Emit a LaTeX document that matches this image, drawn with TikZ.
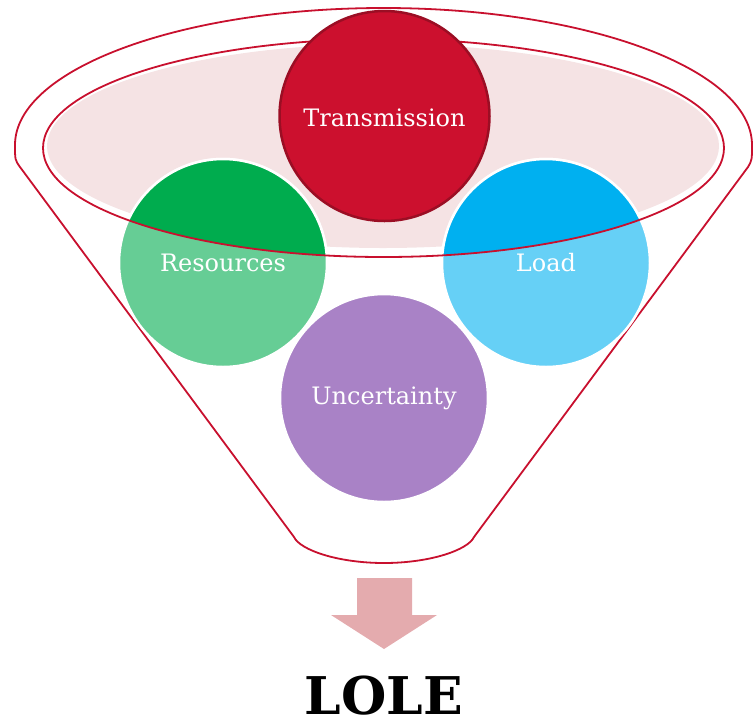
\documentclass[tikz,border=0pt]{standalone}
\usepackage{fontspec}
\setmainfont{DejaVu Serif}
\definecolor{funnelred}{HTML}{C8102E}
\definecolor{bowlpink}{HTML}{F5E3E4}
\definecolor{transfill}{HTML}{CC102E}
\definecolor{transedge}{HTML}{9B0E24}
\definecolor{resdark}{HTML}{00AC4E}
\definecolor{reslight}{HTML}{66CD95}
\definecolor{loaddark}{HTML}{00B0F0}
\definecolor{loadlight}{HTML}{66D0F6}
\definecolor{uncfill}{HTML}{A982C6}
\definecolor{arrowpink}{HTML}{E4ABAE}
\tikzset{
  funnelline/.style={draw=funnelred, line width=1.8pt, line join=round},
  bubble/.style={circle, draw=white, line width=2.5pt, minimum size=208pt, inner sep=0pt},
  bubbletext/.style={text=white, font=\fontsize{24}{28}\selectfont},
  bigtext/.style={text=black, inner sep=0pt, text depth=0pt, font=\fontsize{52}{58}\selectfont\bfseries}
}
\begin{document}
\begin{tikzpicture}[x=1pt, y=-1pt]
\useasboundingbox (0,0) rectangle (755,721);

% pink surface inside the funnel mouth
\fill[bowlpink] (383,146) ellipse [x radius=336, y radius=102];

% funnel outline
\draw[funnelline] (20,167) .. controls (15,160) .. (15,145)
  arc [start angle=180, end angle=360, x radius=368.5, y radius=137]
  .. controls (752,160) .. (748,167)
  -- (474,537) .. controls (468,550) and (430,563) .. (384,563)
  .. controls (338,563) and (300,550) .. (294,537) -- cycle;

% lower circles, pale where they sit outside the mouth
\node[bubble, fill=reslight] (res) at (223,263) {};
\node[bubble, fill=loadlight] (load) at (546,263) {};
\node[bubble, fill=uncfill] (unc) at (384,398) {};

% full colour where they sit inside the mouth
\begin{scope}
  \clip (383.5,148) ellipse [x radius=340.5, y radius=109];
  \node[bubble, fill=resdark] (resin) at (res.center) {};
  \node[bubble, fill=loaddark] (loadin) at (load.center) {};
\end{scope}

% rim of the mouth
\draw[funnelline] (383.5,148) ellipse [x radius=340.5, y radius=109];

% top circle
\node[circle, fill=transfill, draw=transedge, line width=2.5pt, minimum size=210pt, inner sep=0pt] (trans) at (384.5,116) {};

% labels
\node[bubbletext] (transtext) at (384.5,118) {Transmission};
\node[bubbletext] (restext) at (res.center) {Resources};
\node[bubbletext] (loadtext) at (load.center) {Load};
\node[bubbletext] (unctext) at (unc.center) {Uncertainty};

% output arrow and result
\fill[arrowpink] (357,578) -- (412,578) -- (412,615) -- (437,615) -- (384,649)
  -- (331,615) -- (357,615) -- cycle;
\node[bigtext, anchor=base] (lole) at (384,714) {LOLE};
\end{tikzpicture}
\end{document}
